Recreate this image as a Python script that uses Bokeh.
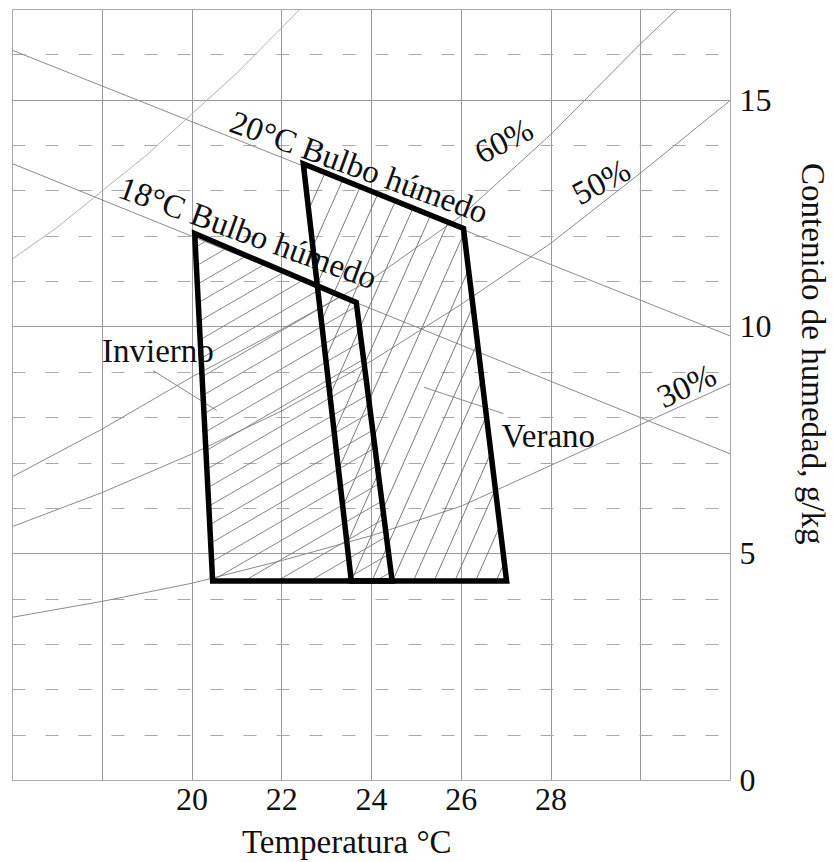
import math
from bokeh.plotting import figure
from bokeh.models import Range1d, FixedTicker, ColumnDataSource
from bokeh.core.properties import value
from bokeh.embed import file_html
from bokeh.resources import INLINE

FONT = "Liberation Serif"
NBSP = "\u00a0"

# ---------------- data ----------------
x_tick_values = [20, 22, 24, 26, 28]
y_tick_values = [0, 5, 10, 15]
x_grid_values = [16, 18, 20, 22, 24, 26, 28, 30, 32]
y_minor_values = [1, 2, 3, 4, 6, 7, 8, 9, 11, 12, 13, 14, 16]

# wet-bulb lines (dry-bulb temperature, moisture content g/kg)
wb20_t = [16, 32]
wb20_w = [16.1, 9.8]
wb18_t = [16, 32]
wb18_w = [13.6, 7.2]

# relative humidity curves
sat_t = [16, 17, 18, 19, 20, 21, 22, 22.4]
sat_w = [11.5, 12.2, 13.0, 13.8, 14.7, 15.6, 16.6, 17.0]
rh60_t = [16, 18, 20, 22, 24, 26, 28, 30, 30.8]
rh60_w = [6.7, 7.75, 8.9, 9.95, 11.05, 12.45, 14.25, 16.25, 17.0]
rh50_t = [16, 18, 20, 22, 24, 26, 28, 30, 32]
rh50_w = [5.6, 6.35, 7.2, 8.15, 9.25, 10.5, 11.85, 13.4, 15.0]
rh30_t = [16, 18, 20, 22, 24, 26, 28, 30, 32]
rh30_w = [3.6, 3.95, 4.35, 4.85, 5.4, 6.05, 6.95, 7.85, 8.75]

# two short stray guide strokes visible in the original
stray_t = [[19.13, 20.55], [25.17, 26.94]]
stray_w = [[9.04, 8.16], [8.67, 8.09]]

# comfort zones
winter_t = [20.06, 23.66, 24.46, 20.46]
winter_w = [12.06, 10.54, 4.4, 4.4]
summer_t = [22.48, 26.05, 27.01, 23.55]
summer_w = [13.6, 12.17, 4.4, 4.4]

# annotations
ann_text = ["20°C Bulbo húmedo", "18°C Bulbo húmedo", "60%", "50%", "30%", "Invierno", "Verano"]
ann_t = [20.88, 18.4, 26.95, 29.12, 31.02, 19.24, 27.94]
ann_w = [14.55, 13.1, 14.1, 13.2, 8.7, 9.46, 7.59]
ann_angle_deg = [-20, -20, 27, 28, 25, 0, 0]
ann_align = ["left", "left", "center", "center", "center", "center", "center"]

x_label_text = "Temperatura °C"
y_label_text = "Contenido de humedad, g/kg"

X0, X1, Y0, Y1 = 16, 32, 0, 17
W_PX, H_PX = 721, 771
SX = W_PX / (X1 - X0)
SY = H_PX / (Y1 - Y0)


def hatch_lines(ts, ws, angle_deg, spacing_px):
    """Parallel hatch segments clipped to a convex polygon."""
    pts = [((t - X0) * SX, w * SY) for t, w in zip(ts, ws)]
    a = math.radians(angle_deg)
    nx, ny = -math.sin(a), math.cos(a)
    s = [px * nx + py * ny for px, py in pts]
    lo, hi = min(s), max(s)
    xs, ys = [], []
    c = lo + spacing_px * 0.5
    n = len(pts)
    while c < hi:
        hits = []
        for i in range(n):
            (x1, y1), (x2, y2) = pts[i], pts[(i + 1) % n]
            s1, s2 = s[i], s[(i + 1) % n]
            if (s1 - c) * (s2 - c) < 0:
                f = (c - s1) / (s2 - s1)
                hits.append((x1 + f * (x2 - x1), y1 + f * (y2 - y1)))
        if len(hits) >= 2:
            (ax, ay), (bx, by) = hits[0], hits[1]
            xs.append([X0 + ax / SX, X0 + bx / SX])
            ys.append([ay / SY, by / SY])
        c += spacing_px
    return xs, ys


p = figure(width=833, height=862,
           x_range=Range1d(X0, X1), y_range=Range1d(Y0, Y1),
           y_axis_location="right",
           output_backend="svg", toolbar_location=None,
           min_border_left=12, min_border_top=9,
           min_border_bottom=82, min_border_right=100)
p.background_fill_color = "white"
p.border_fill_color = "white"
p.outline_line_color = "#a8a8a8"
p.outline_line_width = 1

# grid
p.xgrid.ticker = FixedTicker(ticks=x_grid_values)
p.xgrid.grid_line_color = "#9a9a9a"
p.xgrid.grid_line_width = 1
p.ygrid.ticker = FixedTicker(ticks=y_tick_values, minor_ticks=y_minor_values)
p.ygrid.grid_line_color = "#9a9a9a"
p.ygrid.grid_line_width = 1
p.ygrid.minor_grid_line_color = "#a8a8a8"
p.ygrid.minor_grid_line_dash = "13 20"
p.ygrid.minor_grid_line_width = 1


def style_axis(ax):
    ax.axis_line_color = None
    ax.major_tick_line_color = None
    ax.minor_tick_line_color = None
    ax.major_tick_out = 0
    ax.major_tick_in = 0
    ax.minor_tick_out = 0
    ax.minor_tick_in = 0
    ax.major_label_text_font = FONT
    ax.major_label_text_font_size = "32px"
    ax.major_label_text_color = "#111111"
    ax.axis_label_text_font = FONT
    ax.axis_label_text_font_size = "33px"
    ax.axis_label_text_font_style = "normal"
    ax.axis_label_text_color = "#111111"


# x axis; trailing no-break spaces move the centred title a little left, as in the original
xax = p.xaxis[0]
style_axis(xax)
xax.ticker = FixedTicker(ticks=x_tick_values)
xax.axis_label = x_label_text + NBSP * 6
xax.major_label_standoff = 8
xax.axis_label_standoff = 11

# y axis; no-break spaces move the centred title up, as in the original
yax = p.yaxis[0]
style_axis(yax)
yax.ticker = FixedTicker(ticks=y_tick_values)
yax.major_label_standoff = 9
yax.axis_label = y_label_text + NBSP * 10
yax.axis_label_standoff = 20

# psychrometric lines
thin = dict(line_color="#8a8a8a", line_width=1)
p.line(wb20_t, wb20_w, **thin)
p.line(wb18_t, wb18_w, **thin)
p.line(sat_t, sat_w, line_color="#b0b0b0", line_width=1)
p.line(rh60_t, rh60_w, **thin)
p.line(rh50_t, rh50_w, **thin)
p.line(rh30_t, rh30_w, **thin)
p.multi_line(stray_t, stray_w, line_color="#8a8a8a", line_width=1)

# hatching
wx, wy = hatch_lines(winter_t, winter_w, 30, 16.5)
p.multi_line(wx, wy, line_color="#777777", line_width=0.9)
sx_, sy_ = hatch_lines(summer_t, summer_w, 66, 19)
p.multi_line(sx_, sy_, line_color="#6a6a6a", line_width=0.9)

# annotations
src = ColumnDataSource(dict(x=ann_t, y=ann_w, text=ann_text,
                            angle=[math.radians(a) for a in ann_angle_deg],
                            align=ann_align))
p.text(x="x", y="y", text="text", angle="angle", source=src,
       text_align="align", text_baseline="middle",
       text_font=value(FONT), text_font_size=value("33px"),
       text_color="#111111")

# comfort zone outlines
thick = dict(fill_color=None, line_color="black", line_width=5.5, line_join="miter")
p.patch(winter_t, winter_w, **thick)
p.patch(summer_t, summer_w, **thick)

open("out.html", "w").write(file_html(p, INLINE))
